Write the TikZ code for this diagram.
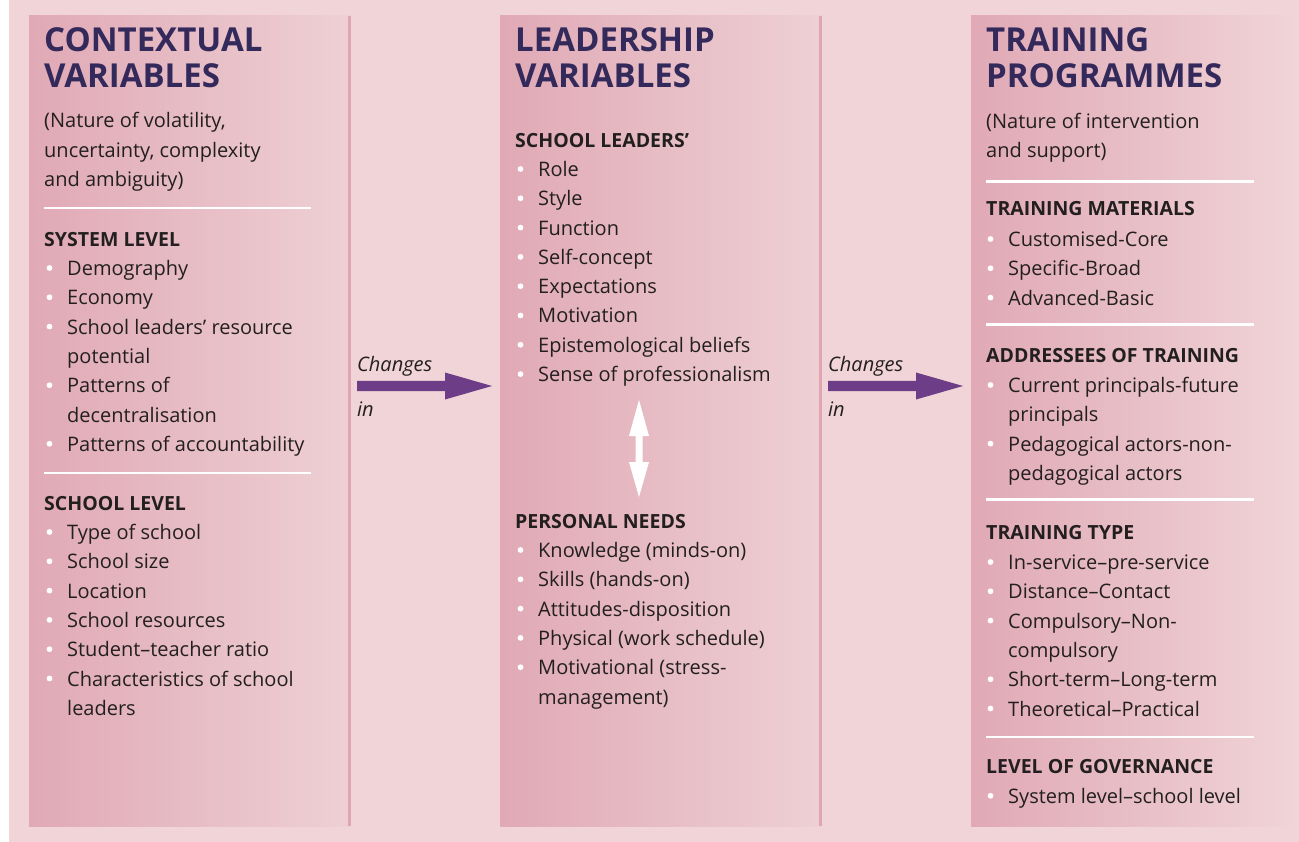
\documentclass[tikz,border=0pt]{standalone}
\usepackage{fontspec}
\setmainfont{Open Sans}
\definecolor{bgpink}{HTML}{F0D4D7}
\definecolor{panelL}{HTML}{E0A9B5}
\definecolor{panelR}{HTML}{EED0D4}
\definecolor{rulec}{HTML}{DFA6B2}
\definecolor{headc}{HTML}{33295B}
\definecolor{txt}{HTML}{231F20}
\definecolor{arrowc}{HTML}{6E3D87}
\tikzset{
 headtxt/.style={anchor=base west, inner sep=0pt, font=\fontsize{33}{33}\selectfont\bfseries, text=headc},
 subtxt/.style={anchor=base west, inner sep=0pt, font=\fontsize{19.5}{20}\selectfont\bfseries, text=txt},
 bodytxt/.style={anchor=base west, inner sep=0pt, font=\fontsize{20}{20}\selectfont, text=txt},
 chgtxt/.style={anchor=base west, inner sep=0pt, font=\fontsize{20}{20}\selectfont\itshape, text=txt},
 sepline/.style={draw=white, line width=2.5pt},
 panelbox/.style={shading=axis, left color=panelL, right color=panelR, draw=none},
 edgeline/.style={draw=rulec, line width=2.5pt},
 bigarrow/.style={fill=arrowc, draw=none},
 whitearrow/.style={fill=white, draw=none}
}
\newcommand\itm[4]{%
 \fill[white] ({#2-17.5},{#3-7.5}) circle (2.9);
 \node[bodytxt] (#1) at (#2,#3) {#4};}
\newcommand\cont[4]{\node[bodytxt] (#1) at (#2,#3) {#4};}
\begin{document}
\begin{tikzpicture}[x=1pt,y=-1pt]
\useasboundingbox (0,0) rectangle (1299,842);
\fill[white] (0,0) rectangle (1299,842);
\fill[bgpink] (9,0) rectangle (1299,842);
% panels
\shade[panelbox] (29,16) rectangle (350,826);
\draw[edgeline] (349.5,16) -- (349.5,826);
\shade[panelbox] (500,16) rectangle (821,826);
\draw[edgeline] (820.5,16) -- (820.5,826);
\shade[panelbox,right color=bgpink] (971,16) rectangle (1295,826);
% column 1
\node[headtxt] (c1h1) at (44,52) {CONTEXTUAL};
\node[headtxt] (c1h2) at (44,88) {VARIABLES};
\node[bodytxt] (c1s1) at (44,128) {(Nature of volatility,};
\node[bodytxt] (c1s2) at (44,157.5) {uncertainty, complexity};
\node[bodytxt] (c1s3) at (44,187) {and ambiguity)};
\draw[sepline] (44,208) -- (311,208);
\node[subtxt] (c1sys) at (44,246.5) {SYSTEM LEVEL};
\itm{c1a}{67}{275.5}{Demography}
\itm{c1b}{67}{304.8}{Economy}
\itm{c1c}{67}{334.1}{School leaders’ resource}
\cont{c1d}{67}{363.4}{potential}
\itm{c1e}{67}{392.7}{Patterns of}
\cont{c1f}{67}{422}{decentralisation}
\itm{c1g}{67}{451.3}{Patterns of accountability}
\draw[sepline] (44,473) -- (311,473);
\node[subtxt] (c1sch) at (44,510.5) {SCHOOL LEVEL};
\itm{c1h}{67}{539.5}{Type of school}
\itm{c1i}{67}{568.8}{School size}
\itm{c1j}{67}{598.1}{Location}
\itm{c1k}{67}{627.4}{School resources}
\itm{c1l}{67}{656.7}{Student–teacher ratio}
\itm{c1m}{67}{686}{Characteristics of school}
\cont{c1n}{67}{715.3}{leaders}
% column 2
\node[headtxt] (c2h1) at (515,52) {LEADERSHIP};
\node[headtxt] (c2h2) at (515,88) {VARIABLES};
\node[subtxt] (c2sl) at (515,147.5) {SCHOOL LEADERS’};
\itm{c2a}{538}{176.5}{Role}
\itm{c2b}{538}{205.8}{Style}
\itm{c2c}{538}{235.1}{Function}
\itm{c2d}{538}{264.4}{Self-concept}
\itm{c2e}{538}{293.7}{Expectations}
\itm{c2f}{538}{323}{Motivation}
\itm{c2g}{538}{352.3}{Epistemological beliefs}
\itm{c2h}{538}{381.6}{Sense of professionalism}
\fill[whitearrow] (639,400) -- (649,436) -- (642.5,436) -- (642.5,462) -- (649,462)
  -- (639,497) -- (629,462) -- (635.5,462) -- (635.5,436) -- (629,436) -- cycle;
\node[subtxt] (c2pn) at (515,528.5) {PERSONAL NEEDS};
\itm{c2i}{538}{557.5}{Knowledge (minds-on)}
\itm{c2j}{538}{586.8}{Skills (hands-on)}
\itm{c2k}{538}{616.1}{Attitudes-disposition}
\itm{c2l}{538}{645.4}{Physical (work schedule)}
\itm{c2m}{538}{674.7}{Motivational (stress-}
\cont{c2n}{538}{704}{management)}
% column 3
\node[headtxt] (c3h1) at (986,52) {TRAINING};
\node[headtxt] (c3h2) at (986,88) {PROGRAMMES};
\node[bodytxt] (c3s1) at (986,128.5) {(Nature of intervention};
\node[bodytxt] (c3s2) at (986,158) {and support)};
\draw[sepline] (986,181.5) -- (1254,181.5);
\node[subtxt] (c3tm) at (986,216) {TRAINING MATERIALS};
\itm{c3a}{1008}{246.5}{Customised-Core}
\itm{c3b}{1008}{275.8}{Specific-Broad}
\itm{c3c}{1008}{305.1}{Advanced-Basic}
\draw[sepline] (986,324.5) -- (1254,324.5);
\node[subtxt] (c3ad) at (986,362.7) {ADDRESSEES OF TRAINING};
\itm{c3d}{1008}{392.5}{Current principals-future}
\cont{c3e}{1008}{421.8}{principals}
\itm{c3f}{1008}{451.1}{Pedagogical actors-non-}
\cont{c3g}{1008}{480.4}{pedagogical actors}
\draw[sepline] (986,499.5) -- (1254,499.5);
\node[subtxt] (c3tt) at (986,539.5) {TRAINING TYPE};
\itm{c3h}{1008}{569.5}{In-service–pre-service}
\itm{c3i}{1008}{598.8}{Distance–Contact}
\itm{c3j}{1008}{628.1}{Compulsory–Non-}
\cont{c3k}{1008}{657.4}{compulsory}
\itm{c3l}{1008}{686.7}{Short-term–Long-term}
\itm{c3m}{1008}{716}{Theoretical–Practical}
\draw[sepline] (986,737) -- (1254,737);
\node[subtxt] (c3lg) at (986,773.3) {LEVEL OF GOVERNANCE};
\itm{c3n}{1008}{803.3}{System level–school level}
% arrows
\node[chgtxt] (ch1) at (357,371) {Changes};
\node[chgtxt] (in1) at (357,416) {in};
\fill[bigarrow] (357,381) -- (445,381) -- (445,372.5) -- (492,386) -- (445,399.5) -- (445,391) -- (357,391) -- cycle;
\node[chgtxt] (ch2) at (828,371) {Changes};
\node[chgtxt] (in2) at (828,416) {in};
\fill[bigarrow] (828,381) -- (916,381) -- (916,372.5) -- (963,386) -- (916,399.5) -- (916,391) -- (828,391) -- cycle;
\end{tikzpicture}
\end{document}
